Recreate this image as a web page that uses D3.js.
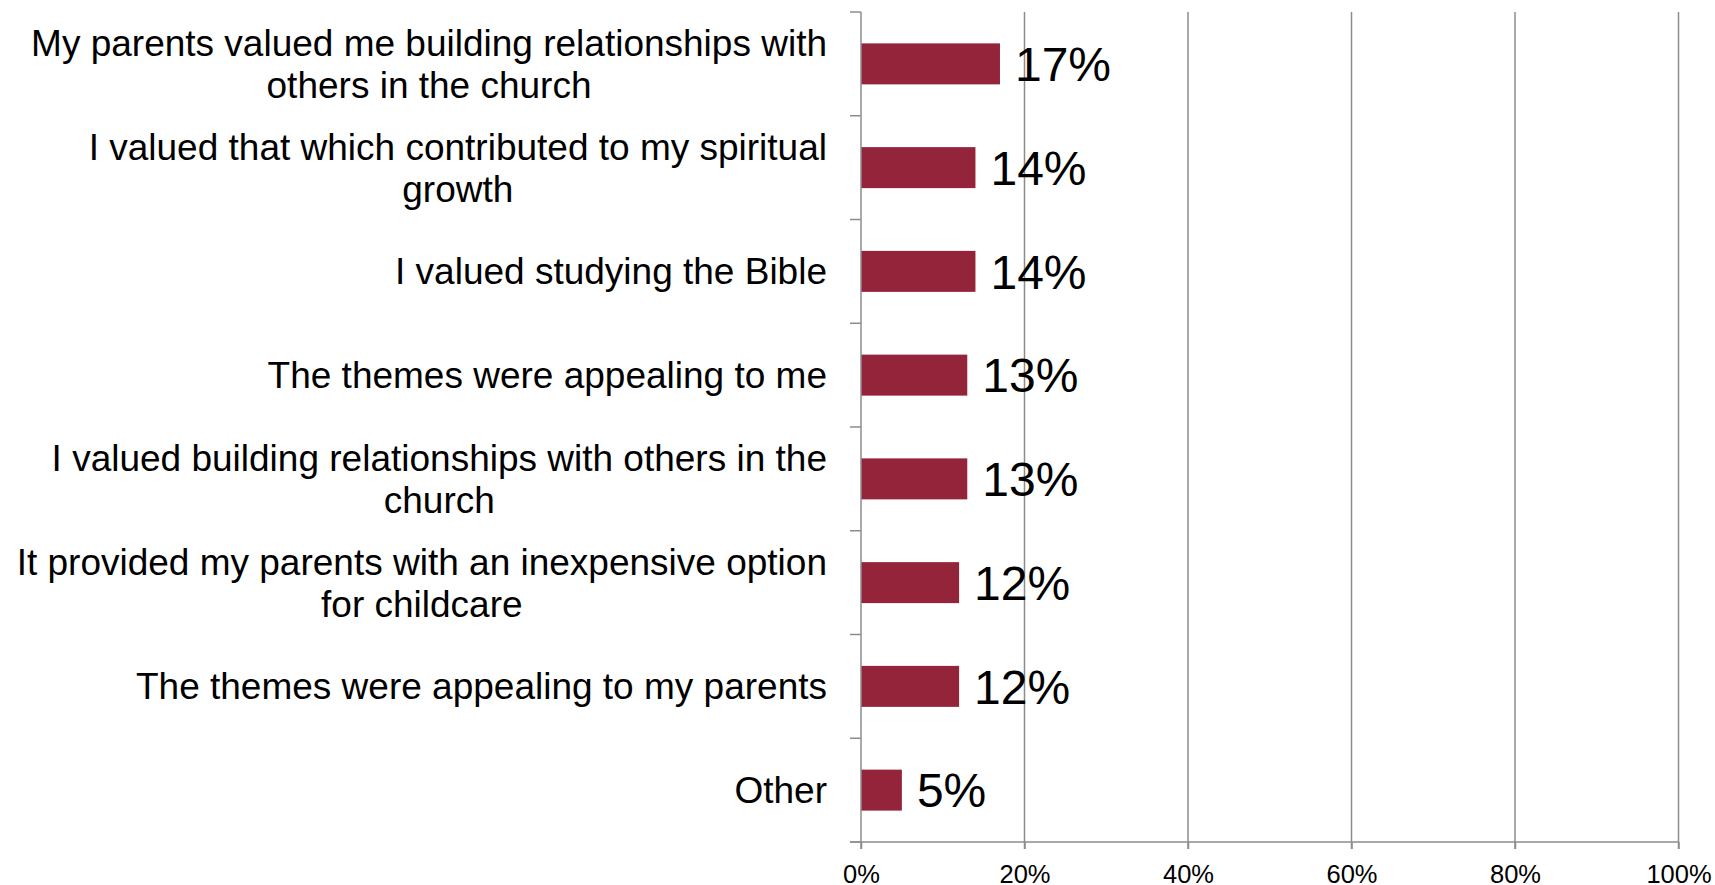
<!DOCTYPE html>
<html>
<head>
<meta charset="utf-8">
<script src="https://cdn.jsdelivr.net/npm/d3@7"></script>
<style>
  body { margin: 0; background: #fff; }
  text { font-family: "Liberation Sans", Arial, sans-serif; fill: #000; }
</style>
</head>
<body>
<script>
// survey reasons (line breaks as in the original slide)
var categories = [
    'My parents valued me building relationships with\nothers in the church',
    'I valued that which contributed to my spiritual\ngrowth',
    'I valued studying the Bible',
    'The themes were appealing to me',
    'I valued building relationships with others in the\nchurch',
    'It provided my parents with an inexpensive option\nfor childcare',
    'The themes were appealing to my parents',
    'Other'
];
var values = [0.17, 0.14, 0.14, 0.13, 0.13, 0.12, 0.12, 0.05];
var tickValues = [0, 0.2, 0.4, 0.6, 0.8, 1];

var width = 1715, height = 885;
var gridColor = '#8c8c8c';

var svg = d3.select('body').append('svg')
    .attr('width', width)
    .attr('height', height);

// x scale runs from the axis line to the 100% gridline
var x = d3.scaleLinear().domain([0, 1]).range([861, 1678.5]);
// one band per reason, bar centred in its band
var y = d3.scaleBand().domain(d3.range(categories.length)).range([12, 842])
    .paddingInner(0.605).paddingOuter(0.3025);
var step = y.step();

// vertical gridlines (plus the small ticks below the axis)
svg.append('g')
    .selectAll('line')
    .data(tickValues.slice(1))
    .enter().append('line')
    .attr('x1', function(d) { return x(d); })
    .attr('x2', function(d) { return x(d); })
    .attr('y1', 12)
    .attr('y2', 849)
    .attr('stroke', gridColor)
    .attr('stroke-width', 1.5);

// bars
svg.append('g')
    .selectAll('rect')
    .data(values)
    .enter().append('rect')
    .attr('x', x(0))
    .attr('y', function(d, i) { return y(i); })
    .attr('width', function(d) { return x(d) - x(0); })
    .attr('height', y.bandwidth())
    .attr('fill', 'rgb(148,36,58)');

// value labels
svg.append('g')
    .selectAll('text')
    .data(values)
    .enter().append('text')
    .attr('x', function(d) { return x(d) + 15; })
    .attr('y', function(d, i) { return y(i) + y.bandwidth() / 2; })
    .attr('dy', '0.36em')
    .style('font-size', '48px')
    .text(d3.format('.0%'));

// y axis: band boundary ticks on the left
var yAxis = svg.append('g');
yAxis.append('line')
    .attr('x1', x(0)).attr('x2', x(0))
    .attr('y1', 12).attr('y2', 849)
    .attr('stroke', gridColor).attr('stroke-width', 1.5);
yAxis.selectAll('.tick')
    .data(d3.range(categories.length + 1))
    .enter().append('line')
    .attr('class', 'tick')
    .attr('x1', x(0) - 11).attr('x2', x(0))
    .attr('y1', function(i) { return 12 + i * step; })
    .attr('y2', function(i) { return 12 + i * step; })
    .attr('stroke', gridColor).attr('stroke-width', 1.5);

// category labels: block right aligned at the axis, lines centred inside the block
var lineHeight = 42;
var labelRight = 827;
svg.append('g')
    .selectAll('text')
    .data(categories)
    .enter().append('text')
    .attr('text-anchor', 'middle')
    .style('font-size', '37px')
    .each(function(d, i) {
        var lines = d.split('\n');
        var cy = y(i) + y.bandwidth() / 2;
        var first = cy + 13 - (lines.length - 1) * lineHeight / 2;
        var t = d3.select(this);
        var spans = lines.map(function(line, k) {
            return t.append('tspan')
                .attr('y', first + k * lineHeight)
                .text(line);
        });
        // widest line sets the block width
        var blockW = d3.max(spans, function(s) { return s.node().getComputedTextLength(); });
        spans.forEach(function(s) {
            s.attr('x', labelRight - blockW / 2);
        });
    });

// x axis at the bottom
var xAxis = d3.axisBottom(x)
    .tickValues(tickValues)
    .tickFormat(d3.format('.0%'))
    .tickSize(7)
    .tickPadding(14);

var gx = svg.append('g')
    .attr('transform', 'translate(0,842)')
    .call(xAxis);
gx.select('.domain')
    .attr('d', 'M850,0H' + x(1))
    .attr('stroke', gridColor)
    .attr('stroke-width', 1.5);
gx.selectAll('.tick line')
    .attr('stroke', gridColor)
    .attr('stroke-width', 1.5);
gx.selectAll('.tick text')
    .attr('dy', null)
    .attr('y', 41)
    .style('font-family', '"Liberation Sans", Arial, sans-serif')
    .style('font-size', '25.5px')
    .attr('fill', '#000');
</script>
</body>
</html>
